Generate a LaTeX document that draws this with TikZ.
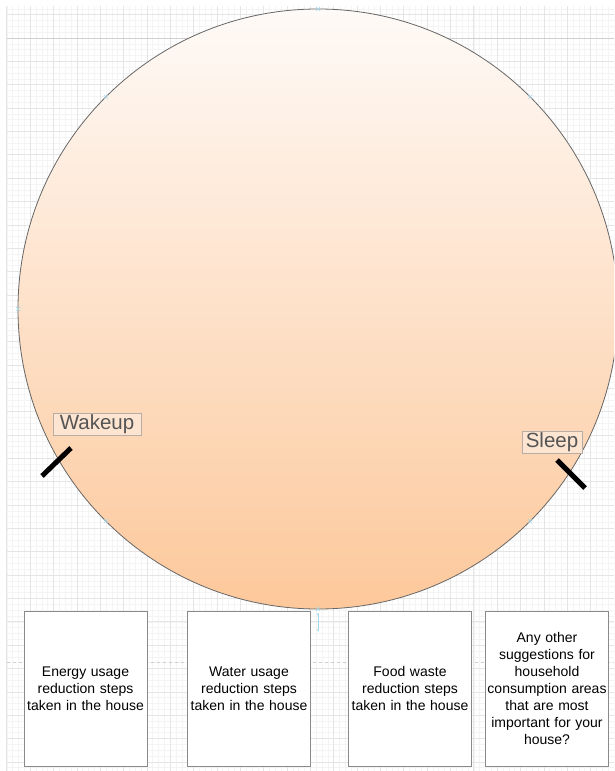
\documentclass[tikz,border=0pt]{standalone}
\usepackage{fontspec}
\setmainfont{Liberation Sans}
\usepackage{xcolor}
\usetikzlibrary{arrows.meta}

\definecolor{gridminor}{HTML}{F4F4F4}
\definecolor{gridmajor}{HTML}{E5E5E5}
\definecolor{pagebreak}{HTML}{D0D0D0}
\definecolor{peachtop}{HTML}{FEFAF7}
\definecolor{peachbot}{HTML}{FDC89B}
\definecolor{rimgray}{HTML}{666666}
\definecolor{tagfill}{HTML}{FDE5D2}
\definecolor{tagline}{HTML}{B8ADA5}
\definecolor{tagtext}{HTML}{555555}
\definecolor{boxline}{HTML}{8A8A8A}
\definecolor{markblue}{HTML}{A6D8EC}

\begin{document}
\begin{tikzpicture}[x=1pt,y=-1pt,
    infobox/.style={draw=boxline, line width=0.8pt, fill=white, minimum width=123pt,
        minimum height=155pt, text width=121pt, align=center, inner sep=0pt,
        font=\fontsize{14}{17}\selectfont},
    timetag/.style={draw=tagline, line width=0.7pt, fill=tagfill, text=tagtext,
        minimum height=22pt, inner sep=1pt, font=\fontsize{20.5}{22}\selectfont},
    tick/.style={line width=5pt, black},
    marker/.style={markblue, line width=0.6pt}]
    \useasboundingbox (0,0) rectangle (614,771);
    \clip (0,0) rectangle (614,771);

    % Grid
    \foreach \i in {0,...,104}
        \draw[gridminor, line width=0.4pt] ({6.7+\i*5.8375},6) -- ({6.7+\i*5.8375},771);
    \foreach \j in {0,...,130}
        \draw[gridminor, line width=0.4pt] (7,{8.76+\j*5.8375}) -- (614,{8.76+\j*5.8375});
    \foreach \i in {0,...,26}
        \draw[gridmajor, line width=0.5pt] ({6.7+\i*23.35},6) -- ({6.7+\i*23.35},771);
    \foreach \j in {0,...,32}
        \draw[gridmajor, line width=0.5pt] (7,{14.6+\j*23.35}) -- (614,{14.6+\j*23.35});
    \draw[pagebreak, line width=0.6pt] (7,38) -- (614,38);
    \draw[pagebreak, line width=0.6pt, dashed] (7,662) -- (614,662);

    % Day circle
    \node[circle, draw=rimgray, line width=0.8pt, minimum size=600pt, inner sep=0pt,
        top color=peachtop, bottom color=peachbot] (day) at (318,309) {};
    \foreach \a in {45,90,135,180,225,270,315}
        \draw[marker] ([shift={(\a:300)}]day.center) ++(-2,-2) -- ++(4,4)
            ++(-4,0) -- ++(4,-4);
    \coordinate (mark) at (318,632);
    \draw[marker, {Stealth[length=3pt]}-{Stealth[length=3pt]}] ([yshift=-3pt]day.south) -- (mark);

    % Wake and sleep ticks
    \coordinate (wakeA) at (42,476);
    \coordinate (wakeB) at (71,448);
    \coordinate (sleepA) at (557,460);
    \coordinate (sleepB) at (585,488);
    \draw[tick] (wakeA) -- (wakeB);
    \draw[tick] (sleepA) -- (sleepB);
    \node[timetag, minimum width=88pt] (wakeup) at (97,424) {Wakeup};
    \node[timetag, minimum width=60pt] (sleep) at (552,442) {Sleep};

    % Question boxes
    \node[infobox] (energy) at (85.5,688.5) {Energy usage\\reduction steps\\taken in the house};
    \node[infobox] (water) at (249,688.5) {Water usage\\reduction steps\\taken in the house};
    \node[infobox] (food) at (410,688.5) {Food waste\\reduction steps\\taken in the house};
    \node[infobox] (other) at (547,688.5) {Any other\\suggestions for\\household\\consumption areas\\that are most\\important for your\\house?};
\end{tikzpicture}
\end{document}
